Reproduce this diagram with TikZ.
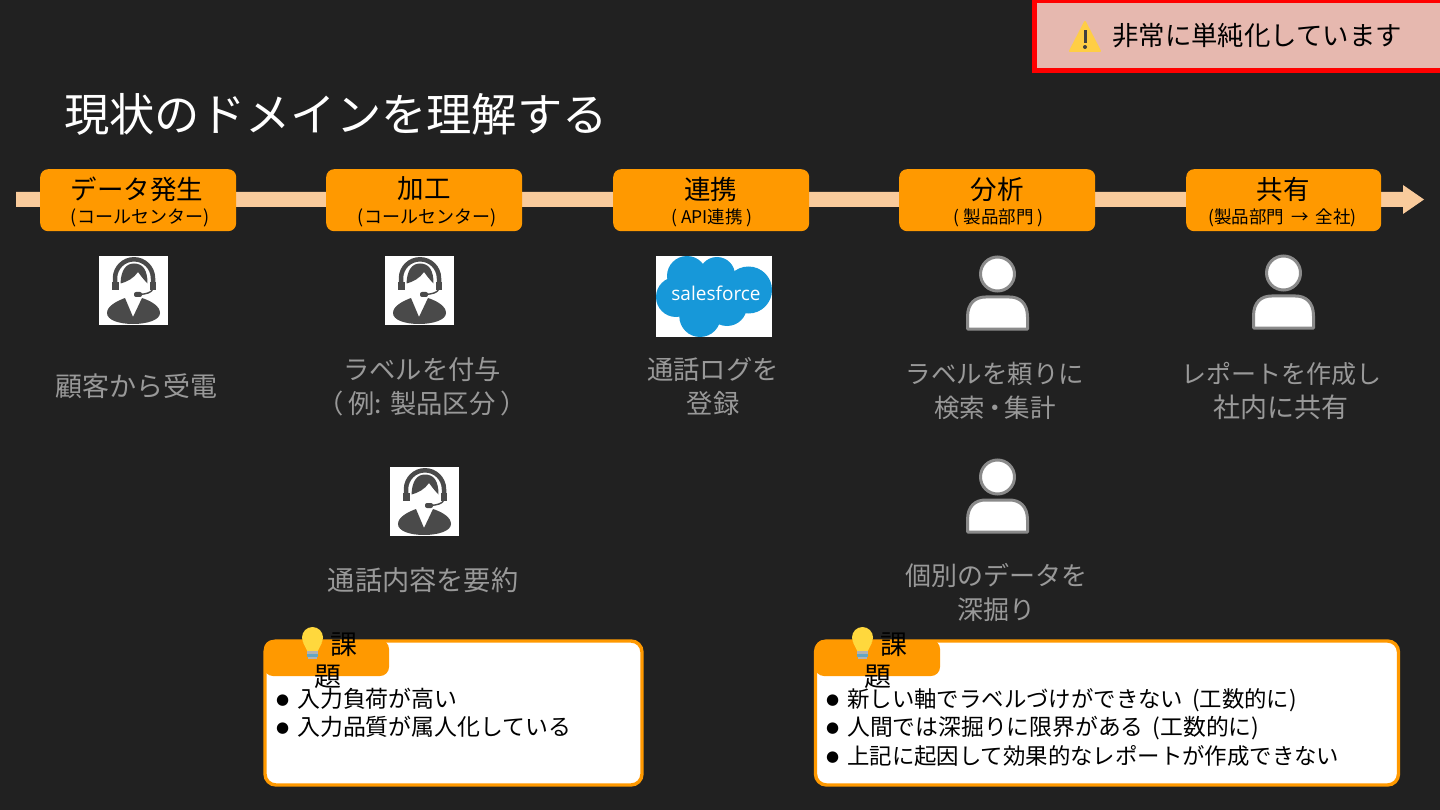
\documentclass[tikz,border=0pt]{standalone}
\usepackage{fontspec}
\setmainfont{Noto Sans CJK JP}
\newfontfamily\symfont{DejaVu Sans}
\newfontfamily\sffont{Open Sans}
\definecolor{bgc}{HTML}{212121}
\definecolor{orangec}{HTML}{FF9900}
\definecolor{bandc}{HTML}{F9CB9C}
\definecolor{grayc}{HTML}{999999}
\definecolor{warnf}{HTML}{E6B8AF}
\definecolor{sfblue}{HTML}{1798D9}
\definecolor{agentc}{HTML}{4A4A4A}
\definecolor{personc}{HTML}{8A8A8A}
\definecolor{bulby}{HTML}{FFD83D}
\definecolor{warny}{HTML}{FFCE45}
\newcommand{\fs}[2]{\fontsize{#1pt}{#2pt}\selectfont}
\newcommand{\bul}{\makebox[16pt][l]{\hspace{-5pt}\raisebox{3pt}{\symfont\fs{15}{15}●}}}
\tikzset{
  x=1pt,y=-1pt,
  stage/.style={fill=orangec,draw=none,rounded corners=8pt,minimum width=196pt,minimum height=62pt,inner sep=0pt,anchor=north west},
  stagetext/.style={inner sep=0pt,align=center,text=black},
  desc/.style={inner sep=0pt,align=center,text=grayc},
  callout/.style={fill=white,draw=orangec,line width=3.4pt,rounded corners=11pt,inner sep=0pt,outer sep=0pt,anchor=north west,minimum height=144pt},
  tab/.style={fill=orangec,draw=none,rounded corners=9pt,inner sep=0pt,outer sep=0pt,anchor=north west,minimum height=36pt,minimum width=125pt},
  tabtext/.style={inner sep=0pt,align=center,text=black},
  bullets/.style={inner sep=0pt,align=left,text=black,anchor=north west},
  pics/agent/.style={code={
    \node[fill=white,draw=none,minimum size=69pt,inner sep=0pt,anchor=north west] at (0,0) {};
    \draw[agentc,line width=4.5pt] (16,29) -- (16,22.3) arc[start angle=180,end angle=360,radius=19] -- (54,29);
    \fill[agentc] (13,26) rectangle (19.5,34);
    \fill[agentc] (50.5,26) rectangle (57,34);
    \draw[agentc,line width=1.4pt] (54,33) .. controls (52,37) and (47,38) .. (40,38.5);
    \fill[agentc,rounded corners=2pt] (35,36) rectangle (43,41);
    \fill[agentc] (21.5,27.5) .. controls (22,14) and (27,7.5) .. (35,7.5) .. controls (44,7.5) and (48.5,14) .. (48.5,27.5) .. controls (45,24) and (42,20) .. (39,16) .. controls (35,22) and (28,26) .. (21.5,27.5) -- cycle;
    \fill[agentc] (26,42) -- (34,61) -- (43,42) .. controls (52,45) and (61,50) .. (61,57) .. controls (61,64) and (48,68) .. (34,68) .. controls (20,68) and (8,64) .. (8,57) .. controls (8,50) and (18,45) .. (26,42) -- cycle;
  }},
  pics/person/.style={code={
    \draw[personc,line width=3pt,fill=white] (0,0) circle[radius=17];
    \draw[personc,line width=3pt,fill=white,line join=round] (-30,55) -- (-30,43) .. controls (-30,29) and (-22,23) .. (-12,23) -- (12,23) .. controls (22,23) and (30,29) .. (30,43) -- (30,55) -- cycle;
  }},
  pics/bulb/.style={code={
    \fill[bulby] (0,0) circle[radius=10.5];
    \fill[bulby] (-9.5,5) -- (9.5,5) -- (5,14) -- (-5,14) -- cycle;
    \fill[gray!60] (-5.5,13) rectangle (5.5,16);
    \fill[cyan!50!gray] (-5.5,16) rectangle (5.5,19);
    \fill[gray!60] (-4.5,19) rectangle (4.5,21.5);
  }},
}
\begin{document}
\begin{tikzpicture}
\useasboundingbox (0,0) rectangle (1440,810);
\fill[bgc] (0,0) rectangle (1440,810);

% warning banner
\node[fill=warnf,draw=red,line width=5pt,outer sep=0pt,anchor=north west,minimum width=420pt,minimum height=70pt,inner sep=0pt] (warn) at (1034.5,0.5) {};
\fill[warny,draw=warny,line width=2pt,line join=round] (1085,22) -- (1070,51) -- (1100,51) -- cycle;
\fill[black!75] (1083.5,30) rectangle (1086.5,43);
\fill[black!75] (1085,47) circle[radius=2];
\node[inner sep=0pt,anchor=west,text=black,font=\fs{26.4}{30}] (warntext) at (1112,35.5) {非常に単純化しています};

% title
\node[inner sep=0pt,anchor=west,text=white,font=\fs{45.3}{50}] (title) at (64,114) {現状のドメインを理解する};

% timeline arrow
\fill[bandc] (16,192) -- (1403,192) -- (1403,185) -- (1424,199.5) -- (1403,214) -- (1403,207) -- (16,207) -- cycle;

% stages
\node[stage] (s1) at (40,169) {};
\node[stage] (s2) at (326,169) {};
\node[stage] (s3) at (613,169) {};
\node[stage] (s4) at (899,169) {};
\node[stage,minimum width=195pt] (s5) at (1186,169) {};
\node[stagetext,font=\fs{26.5}{30}] (s1a) at (137,189) {データ発生};
\node[stagetext,font=\fs{18}{20}] (s1b) at (140,218) {(コールセンター)};
\node[stagetext,font=\fs{26.5}{30}] (s2a) at (424,189) {加工};
\node[stagetext,font=\fs{18}{20}] (s2b) at (427,218) {(コールセンター)};
\node[stagetext,font=\fs{26.5}{30}] (s3a) at (710.5,189) {連携};
\node[stagetext,font=\fs{17.5}{20}] (s3b) at (712,218) {(\hspace{4pt}API連携\hspace{4pt})};
\node[stagetext,font=\fs{26.5}{30}] (s4a) at (997,189) {分析};
\node[stagetext,font=\fs{17.5}{20}] (s4b) at (998.5,218) {(\hspace{4pt}製品部門\hspace{4pt})};
\node[stagetext,font=\fs{26.5}{30}] (s5a) at (1283,189) {共有};
\node[stagetext,font=\fs{17.5}{20}] (s5b) at (1282.5,218) {(製品部門\hspace{3pt} → \hspace{3pt}全社)};

% icons
\pic (a1) at (99,256) {agent};
\pic (a2) at (385,256) {agent};
\pic (a3) at (390,467) {agent};
\pic (p1) at (997.5,274) {person};
\pic (p2) at (997.5,477) {person};
\pic (p3) at (1283.5,273) {person};

% salesforce logo
\fill[white] (656,256) rectangle (772,337);
\begin{scope}[shift={(656,256)}]
  \fill[sfblue] (31,20) circle[radius=20];
  \fill[sfblue] (61,19) circle[radius=18];
  \fill[sfblue] (92.5,34) circle[radius=23.5];
  \fill[sfblue] (71,50) circle[radius=20];
  \fill[sfblue] (44,60.3) circle[radius=20.7];
  \fill[sfblue] (20,41) circle[radius=20];
  \fill[sfblue] (31,20) -- (61,19) -- (92.5,34) -- (71,50) -- (44,60.3) -- (20,41) -- cycle;
\end{scope}
\node[inner sep=0pt,text=white,font=\sffont\fs{19}{22}] (sf) at (716,293) {salesforce};

% descriptions
\node[desc,font=\fs{27}{34}] (d1) at (136,386) {顧客から受電};
\node[desc,font=\fs{26.3}{34}] (d2) at (422,387) {ラベルを付与\\（\hspace{5pt}例: 製品区分\hspace{5pt}）};
\node[desc,font=\fs{26.3}{34}] (d3) at (713,387) {通話ログを\\登録};
\node[desc,font=\fs{25.5}{34}] (d4) at (995,391) {ラベルを頼りに\\検索\hspace{-3pt}・\hspace{-3pt}集計};
\node[desc,font=\fs{26}{34}] (d5) at (1281,391) {{\fs{25}{34}レポートを作成し}\\{\fs{27}{34}社内に共有}};
\node[desc,font=\fs{27.2}{34}] (d6) at (423,580) {通話内容を要約};
\node[desc,font=\fs{26}{34}] (d7) at (996,592.5) {個別のデータを\\深掘り};

% callouts
\node[callout,minimum width=377pt] (c1) at (265,641) {};
\node[tab] (t1) at (264,640) {};
\pic (b1) at (312.5,637.5) {bulb};
\node[tabtext,font=\fs{27}{32}] (tt1) at (328,660.5) {\makebox[32pt]{}課\\題};
\node[bullets,font=\fs{22.9}{28}] (l1) at (281,688) {\bul 入力負荷が高い\\\bul 入力品質が属人化している};

\node[callout,minimum width=583pt] (c2) at (815.5,641) {};
\node[tab] (t2) at (815,640) {};
\pic (b2) at (862.5,637.5) {bulb};
\node[tabtext,font=\fs{27}{32}] (tt2) at (878,660.5) {\makebox[32pt]{}課\\題};
\node[bullets,font=\fs{22.4}{28.5}] (l2) at (831,688) {\bul 新しい軸でラベルづけができない\hspace{4pt} (工数的に)\\\bul {\fontsize{22.8pt}{28.5pt}\selectfont 人間では深掘りに限界がある\hspace{4pt} (工数的に)}\\\bul 上記に起因して効果的なレポートが作成できない};
\end{tikzpicture}
\end{document}
